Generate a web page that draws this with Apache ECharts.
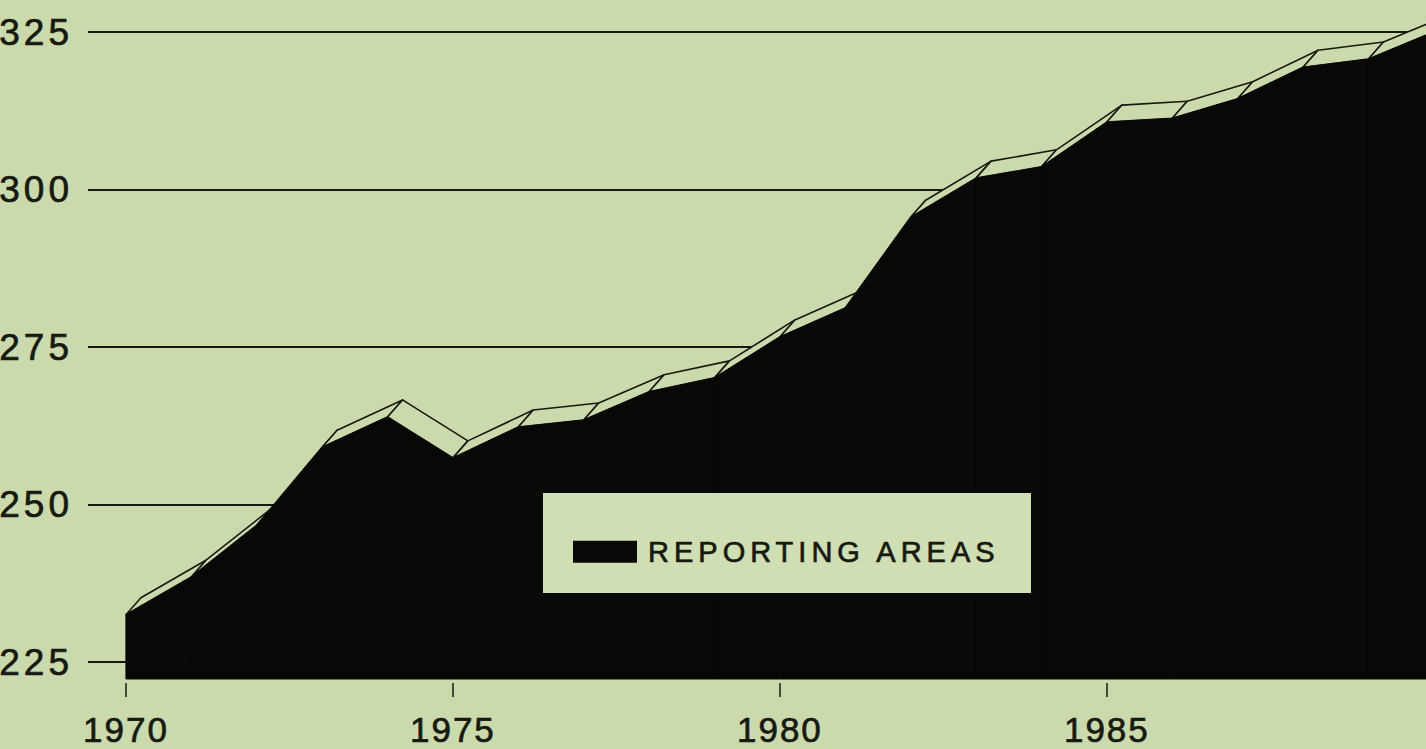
<!DOCTYPE html>
<html>
<head>
<meta charset="utf-8">
<title>Reporting areas</title>
<script src="https://cdn.jsdelivr.net/npm/echarts@6/dist/echarts.min.js"></script>
<style>
  html, body { margin: 0; padding: 0; background: #cbdaad; }
  #chart { width: 1426px; height: 749px; }
  /* the old slide lettering is tracked out a bit */
  #chart text[style*="37px"] { letter-spacing: 4px; }
  #chart text[style*="35px"] { letter-spacing: 2px; }
  #chart text[style*="29px"] { letter-spacing: 5px; }
</style>
</head>
<body>
<div id="chart"></div>
<script>
const years = [1970, 1971, 1972, 1973, 1974, 1975, 1976, 1977, 1978, 1979, 1980,
  1981, 1982, 1983, 1984, 1985, 1986, 1987, 1988, 1989, 1990]
const areas = [235.2, 241.2, 249.4, 261.8, 266.6, 260.1, 265.0, 266.1, 270.6, 272.8, 279.3,
  283.9, 298.3, 304.5, 306.3, 313.4, 314.0, 317.1, 322.1, 323.4, 327.7]
const yTicks = [225, 250, 275, 300, 325]
const xTicks = [1970, 1975, 1980, 1985]
const seriesName = 'REPORTING AREAS'

const BG = '#cbdaad'
const INK = '#161a10'
const FILL = '#080806'
const FONT = "'Liberation Sans', Arial, sans-serif"
// depth of the fake 3d slab, in pixels
const DX = 15
const DY = 17

// one item per segment: [year, value, next year, next value]
const segments = []
for (let i = 0; i < years.length - 1; i++) {
  segments.push([years[i], areas[i], years[i + 1], areas[i + 1]])
}

const myChart = echarts.init(document.getElementById('chart'), null, { renderer: 'svg' })

// top face of the slab, drawn behind the front
function topFace (params, api) {
  const a = api.coord([api.value(0), api.value(1)])
  const b = api.coord([api.value(2), api.value(3)])
  return {
    type: 'polygon',
    shape: {
      points: [[a[0], a[1] + DY], [b[0], b[1] + DY], [b[0] + DX, b[1]], [a[0] + DX, a[1]]]
    },
    style: { fill: BG, stroke: INK, lineWidth: 1.6, lineJoin: 'round' }
  }
}

// black front face down to the floor
function frontFace (params, api) {
  const a = api.coord([api.value(0), api.value(1)])
  const b = api.coord([api.value(2), api.value(3)])
  const base = api.coord([api.value(0), yTicks[0]])[1] + DY
  return {
    type: 'polygon',
    shape: {
      points: [[a[0], a[1] + DY], [b[0], b[1] + DY], [b[0], base], [a[0], base]]
    },
    style: { fill: FILL, stroke: FILL, lineWidth: 1 }
  }
}

// scanned lettering is a little heavier than plain regular weight
const heavy = { color: INK, fontFamily: FONT, textBorderColor: INK, textBorderWidth: 0.7 }

const option = {
  backgroundColor: BG,
  animation: false,
  textStyle: { fontFamily: FONT },
  grid: { left: 88, right: 0, top: 32, bottom: 87 },
  legend: {
    data: [seriesName],
    left: 568,
    top: 532,
    z: 10,
    icon: 'rect',
    itemWidth: 64,
    itemHeight: 22,
    selectedMode: false,
    textStyle: { fontSize: 29, padding: [0, 0, 0, 6], ...heavy }
  },
  graphic: [{
    type: 'rect',
    left: 543,
    top: 493,
    z: 5,
    shape: { width: 488, height: 100 },
    style: { fill: '#cfdfb3' }
  }],
  xAxis: {
    type: 'value',
    min: 1969.42,
    max: 1989.88,
    offset: 21,
    axisLine: { show: false },
    splitLine: { show: false },
    axisTick: { show: true, customValues: xTicks, length: 14, lineStyle: { color: INK, width: 1.5 } },
    axisLabel: {
      customValues: xTicks,
      fontSize: 35,
      margin: 29,
      formatter: v => String(v),
      ...heavy
    }
  },
  yAxis: {
    type: 'value',
    min: 225,
    max: 325,
    interval: 25,
    axisLine: { show: false },
    axisTick: { show: false },
    splitLine: { lineStyle: { color: INK, width: 2.2 } },
    axisLabel: { fontSize: 37, margin: 15, padding: [8, 0, 0, 0], ...heavy }
  },
  series: [
    {
      type: 'custom',
      renderItem: topFace,
      data: segments,
      z: 2,
      silent: true
    },
    {
      name: seriesName,
      type: 'custom',
      renderItem: frontFace,
      data: segments,
      z: 3,
      itemStyle: { color: FILL },
      silent: true
    }
  ]
}
myChart.setOption(option)

window.addEventListener('resize', () => {
  myChart.resize()
})
</script>
</body>
</html>
